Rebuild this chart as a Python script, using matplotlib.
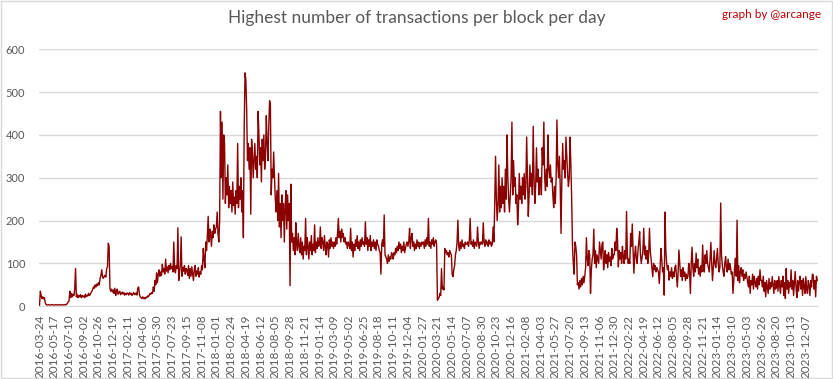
import numpy as np
import matplotlib
matplotlib.use("Agg")
import matplotlib.pyplot as plt
from matplotlib.patches import Rectangle

# --- data: one value every 3 days, 18 values per tick interval (54 days) ---
step_days = 3
tick_every = 54

values = [
    2, 35, 25, 18, 22, 17, 20, 8, 4, 3, 3, 4, 3, 3, 3, 4, 3, 3,
    3, 3, 4, 3, 3, 3, 4, 3, 3, 3, 4, 3, 3, 4, 3, 5, 6, 10,
    12, 35, 20, 30, 22, 28, 25, 40, 88, 22, 28, 20, 25, 22, 27, 20, 25, 22,
    24, 20, 28, 22, 26, 24, 30, 25, 28, 32, 35, 40, 45, 42, 50, 45, 52, 48,
    55, 50, 65, 72, 85, 68, 65, 70, 72, 68, 88, 92, 147, 140, 42, 35, 40, 33,
    38, 30, 42, 25, 36, 40, 28, 32, 35, 27, 30, 33, 28, 32, 26, 30, 27, 31,
    30, 26, 32, 28, 30, 25, 29, 32, 27, 28, 31, 26, 42, 45, 28, 22, 20, 18,
    22, 18, 20, 17, 21, 20, 24, 22, 26, 30, 28, 32, 30, 45, 35, 60, 50, 78,
    55, 75, 85, 70, 80, 72, 98, 80, 88, 75, 110, 82, 92, 78, 95, 85, 100, 88,
    92, 80, 150, 85, 78, 95, 88, 183, 60, 80, 95, 162, 70, 90, 82, 95, 75, 88,
    85, 72, 95, 65, 88, 70, 92, 75, 60, 85, 95, 70, 82, 75, 90, 68, 80, 75,
    95, 85, 135, 110, 90, 150, 130, 165, 210, 150, 180, 165, 140, 175, 160, 190, 170, 180,
    185, 220, 170, 150, 200, 455, 300, 430, 250, 400, 380, 240, 300, 260, 330, 230, 280, 240,
    270, 220, 290, 235, 255, 215, 270, 240, 380, 230, 280, 250, 300, 220, 270, 160, 420, 545,
    530, 460, 340, 380, 320, 370, 215, 390, 360, 300, 340, 380, 320, 350, 300, 455, 400, 330,
    370, 290, 390, 340, 400, 320, 350, 445, 380, 340, 420, 480, 470, 260, 320, 300, 360, 300,
    250, 220, 270, 200, 310, 185, 240, 160, 260, 200, 240, 150, 230, 270, 180, 260, 200, 240,
    48, 285, 150, 170, 130, 160, 120, 195, 145, 130, 170, 140, 125, 160, 120, 150, 110, 140,
    130, 205, 120, 160, 140, 110, 150, 130, 165, 120, 145, 130, 190, 125, 150, 135, 160, 140,
    145, 185, 135, 160, 150, 130, 165, 140, 120, 150, 145, 115, 155, 135, 160, 140, 150, 135,
    150, 140, 160, 145, 170, 205, 160, 175, 150, 180, 160, 170, 150, 160, 145, 150, 135, 150,
    145, 135, 182, 130, 150, 115, 145, 130, 155, 140, 165, 135, 150, 130, 155, 140, 160, 145,
    150, 140, 197, 145, 160, 130, 155, 140, 165, 130, 150, 140, 155, 135, 150, 130, 155, 145,
    140, 130, 125, 75, 145, 155, 140, 213, 120, 115, 110, 100, 120, 105, 115, 110, 125, 120,
    110, 125, 120, 135, 125, 140, 130, 150, 135, 145, 125, 140, 130, 150, 125, 135, 145, 150,
    140, 150, 182, 135, 160, 170, 140, 150, 130, 145, 135, 155, 140, 150, 135, 148, 140, 150,
    145, 150, 135, 155, 140, 160, 145, 205, 140, 150, 135, 155, 145, 160, 140, 150, 155, 145,
    14, 18, 20, 30, 25, 88, 40, 45, 38, 135, 125, 130, 120, 125, 115, 130, 125, 120,
    75, 69, 85, 95, 120, 130, 150, 201, 140, 130, 150, 135, 155, 140, 145, 135, 150, 145,
    145, 150, 140, 155, 205, 145, 150, 140, 155, 135, 150, 145, 140, 185, 150, 135, 150, 145,
    150, 145, 195, 150, 140, 155, 145, 150, 140, 155, 145, 150, 140, 145, 185, 150, 240, 350,
    250, 200, 240, 330, 220, 280, 230, 300, 240, 280, 220, 320, 250, 400, 300, 250, 220, 260,
    300, 430, 260, 340, 280, 300, 240, 260, 190, 230, 310, 250, 280, 240, 300, 260, 310, 250,
    280, 395, 300, 210, 260, 330, 280, 310, 260, 420, 300, 240, 280, 370, 290, 320, 260, 300,
    300, 260, 370, 330, 430, 300, 270, 320, 280, 400, 320, 300, 330, 290, 300, 260, 230, 280,
    240, 300, 435, 330, 300, 350, 280, 170, 300, 380, 320, 340, 300, 395, 350, 310, 280, 300,
    395, 330, 250, 139, 100, 75, 150, 140, 120, 50, 55, 40, 60, 45, 65, 50, 70, 55,
    70, 90, 160, 110, 95, 130, 120, 30, 85, 110, 120, 180, 100, 130, 90, 120, 110, 100,
    150, 130, 110, 145, 150, 85, 110, 130, 100, 120, 90, 125, 105, 115, 95, 135, 110, 120,
    120, 150, 130, 182, 155, 92, 130, 110, 125, 100, 140, 115, 100, 130, 110, 221, 120, 100,
    110, 100, 170, 140, 192, 130, 77, 120, 140, 110, 100, 130, 150, 174, 120, 100, 115, 130,
    182, 120, 140, 110, 130, 100, 120, 182, 130, 110, 90, 69, 100, 85, 95, 80, 90, 85,
    80, 53, 90, 135, 110, 80, 90, 26, 220, 130, 100, 85, 95, 61, 80, 70, 90, 65,
    80, 69, 90, 96, 70, 45, 80, 131, 100, 70, 85, 60, 90, 70, 80, 60, 75, 65,
    70, 100, 80, 30, 100, 138, 90, 70, 100, 80, 124, 90, 110, 75, 90, 70, 95, 80,
    143, 90, 80, 120, 100, 130, 100, 90, 80, 110, 149, 100, 60, 90, 130, 100, 90, 110,
    135, 100, 80, 90, 241, 120, 95, 80, 70, 100, 116, 90, 80, 110, 85, 100, 90, 75,
    80, 30, 60, 90, 112, 70, 201, 60, 95, 55, 80, 90, 70, 85, 60, 75, 65, 80,
    69, 55, 45, 70, 30, 60, 50, 75, 40, 70, 55, 45, 65, 40, 70, 50, 85, 60,
    60, 45, 70, 35, 55, 22, 60, 45, 30, 65, 40, 55, 45, 69, 50, 30, 60, 40,
    45, 60, 35, 69, 50, 30, 60, 45, 70, 25, 55, 18, 88, 40, 60, 30, 55, 45,
    85, 40, 60, 25, 55, 81, 45, 20, 60, 35, 55, 70, 40, 60, 25, 65, 45, 30,
    69, 40, 30, 60, 50, 25, 60, 45, 75, 73, 40, 60, 22, 70, 60,
]

date_labels = [
    "2016-03-24", "2016-05-17", "2016-07-10", "2016-09-02", "2016-10-26", "2016-12-19",
    "2017-02-11", "2017-04-06", "2017-05-30", "2017-07-23", "2017-09-15", "2017-11-08",
    "2018-01-01", "2018-02-24", "2018-04-19", "2018-06-12", "2018-08-05", "2018-09-28",
    "2018-11-21", "2019-01-14", "2019-03-09", "2019-05-02", "2019-06-25", "2019-08-18",
    "2019-10-11", "2019-12-04", "2020-01-27", "2020-03-21", "2020-05-14", "2020-07-07",
    "2020-08-30", "2020-10-23", "2020-12-16", "2021-02-08", "2021-04-03", "2021-05-27",
    "2021-07-20", "2021-09-13", "2021-11-06", "2021-12-30", "2022-02-22", "2022-04-19",
    "2022-06-12", "2022-08-05", "2022-09-28", "2022-11-21", "2023-01-14", "2023-03-10",
    "2023-05-03", "2023-06-26", "2023-08-20", "2023-10-13", "2023-12-07",
]

y_ticks = [0, 100, 200, 300, 400, 500, 600]

# --- colours / fonts ---
LINE = "#8B0000"
GRID = "#D9D9D9"
TEXT = "#595959"
plt.rcParams["font.family"] = ["Lato", "DejaVu Sans"]

fig = plt.figure(figsize=(8.33, 3.79), dpi=100)
ax = fig.add_axes([0.0468, 0.192, 0.935, 0.678])

x = np.arange(len(values)) * step_days
ax.plot(x, values, color=LINE, linewidth=1.0)

ax.set_ylim(0, 600)
ax.set_xlim(-2, x[-1] + 2)
ax.set_yticks(y_ticks)
ax.set_xticks(np.arange(len(date_labels)) * tick_every)
ax.set_xticklabels(date_labels, rotation=90)
ax.tick_params(axis="x", length=0, pad=6, labelsize=8.5, labelcolor=TEXT)
ax.tick_params(axis="y", length=0, pad=10, labelsize=8, labelcolor=TEXT)
ax.grid(axis="y", color=GRID, linewidth=1.0)
ax.set_axisbelow(True)
for side in ["top", "right", "left"]:
    ax.spines[side].set_visible(False)
ax.spines["bottom"].set_color(GRID)

fig.text(0.5, 0.952, "Highest number of transactions per block per day",
         ha="center", va="center", fontsize=12.5, color=TEXT)
fig.text(0.986, 0.962, "graph by @arcange", ha="right", va="center",
         fontsize=8.5, color="#C00000")

# chart border
fig.patches.append(Rectangle((0.001, 0.002), 0.998, 0.996, transform=fig.transFigure,
                             fill=False, edgecolor=GRID, linewidth=1.0))

fig.savefig("out.png", dpi=100)
